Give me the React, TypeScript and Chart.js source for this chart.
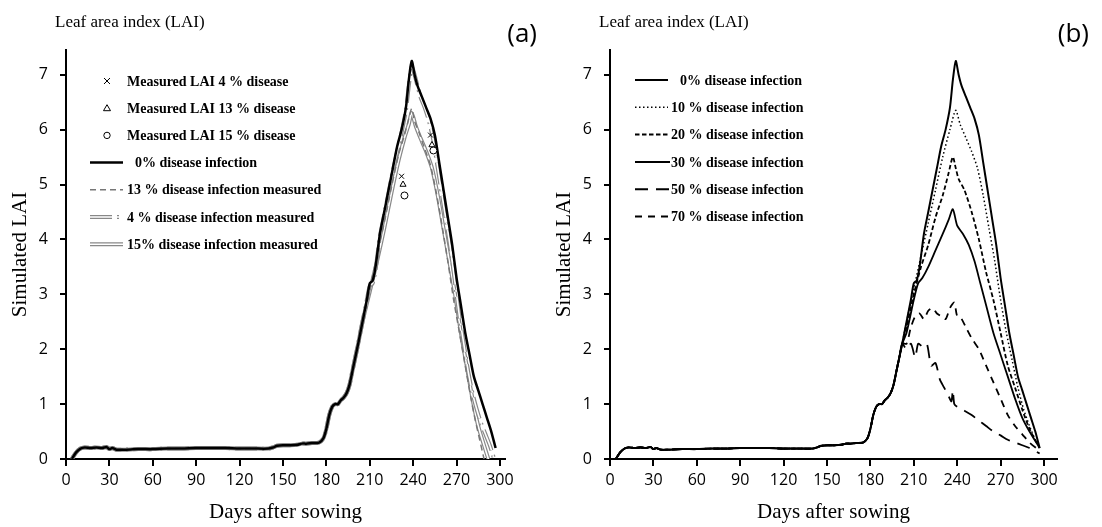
import React, { useEffect, useRef } from 'react';
import { Chart, registerables } from 'chart.js';

Chart.register(...registerables);

// ---------- Data ----------
const xTicksStep = 30;
const yTicksStep = 1;

// shared early season (days 4..202)
const earlyDays = [4, 7, 10, 13, 17, 21, 25, 28, 30, 32, 35, 40, 50, 60, 70, 80, 90, 100, 110, 120, 130, 140, 143, 146, 150, 155, 160, 163, 166, 170, 175, 178, 180, 182, 184, 186, 188, 190, 192, 194, 196, 198, 200, 202];
const earlyLAI = [0, 0.12, 0.19, 0.21, 0.2, 0.21, 0.2, 0.22, 0.18, 0.2, 0.17, 0.17, 0.18, 0.18, 0.19, 0.19, 0.2, 0.2, 0.2, 0.19, 0.19, 0.19, 0.21, 0.24, 0.25, 0.25, 0.26, 0.28, 0.28, 0.29, 0.3, 0.38, 0.55, 0.8, 0.95, 1.0, 1.0, 1.07, 1.12, 1.2, 1.35, 1.6, 1.85, 2.1];

// (a) and (b): 0% disease infection
const late0Days = [205, 208, 210, 212, 214, 217, 220, 223, 226, 229, 232, 235, 237, 239, 241, 243, 246, 249, 252, 255, 258, 261, 264, 267, 270, 273, 276, 279, 282, 285, 288, 291, 294, 297];
const late0LAI = [2.5, 2.9, 3.2, 3.25, 3.5, 4.1, 4.5, 4.9, 5.3, 5.7, 6.0, 6.4, 6.9, 7.25, 7.0, 6.8, 6.6, 6.4, 6.2, 5.9, 5.4, 4.9, 4.4, 3.9, 3.3, 2.8, 2.3, 1.9, 1.5, 1.25, 1.0, 0.75, 0.5, 0.2];

// (a) 4 % disease infection measured
const late4Days = [205, 208, 210, 212, 214, 217, 220, 223, 226, 229, 232, 235, 237, 239, 242, 245, 248, 251, 254, 257, 260, 263, 266, 269, 272, 275, 278, 281, 284, 287, 290, 293, 296];
const late4LAI = [2.5, 2.9, 3.15, 3.2, 3.45, 4.05, 4.45, 4.85, 5.25, 5.6, 5.95, 6.35, 6.8, 7.15, 6.9, 6.6, 6.4, 6.15, 5.8, 5.3, 4.8, 4.3, 3.8, 3.2, 2.6, 2.1, 1.6, 1.2, 0.9, 0.65, 0.45, 0.25, 0.0];

// (a) 13 % disease infection measured
const late13Days = [205, 210, 215, 220, 225, 230, 234, 237, 239, 241, 244, 248, 252, 256, 260, 264, 268, 272, 276, 280, 283, 286, 289];
const late13LAI = [2.5, 3.1, 3.7, 4.3, 4.95, 5.55, 5.9, 6.2, 6.38, 6.15, 5.95, 5.65, 5.35, 4.85, 4.25, 3.6, 2.9, 2.3, 1.7, 1.1, 0.7, 0.35, 0.0];

// (a) 15 % disease infection measured
const late15Days = [205, 210, 215, 220, 225, 230, 234, 237, 239, 242, 245, 249, 253, 257, 261, 265, 269, 273, 277, 281, 285, 289, 292];
const late15LAI = [2.5, 3.05, 3.6, 4.2, 4.85, 5.45, 5.85, 6.1, 6.3, 6.05, 5.85, 5.6, 5.3, 4.8, 4.2, 3.6, 3.0, 2.3, 1.7, 1.1, 0.6, 0.25, 0.0];

// (a) measured LAI points
const meas4Days = [232, 252];
const meas4LAI = [5.15, 5.9];
const meas13Days = [233, 253];
const meas13LAI = [5.0, 5.72];
const meas15Days = [234, 254];
const meas15LAI = [4.8, 5.62];

// (b) 10 % disease infection
const lateB10Days = [205, 210, 215, 220, 225, 230, 235, 239, 242, 246, 250, 254, 258, 262, 266, 270, 274, 278, 282, 286, 290, 294, 297];
const lateB10LAI = [2.5, 3.1, 3.7, 4.3, 4.9, 5.5, 6.0, 6.35, 6.1, 5.85, 5.6, 5.3, 4.8, 4.2, 3.6, 2.9, 2.3, 1.8, 1.3, 0.9, 0.6, 0.35, 0.2];

// (b) 20 % disease infection
const lateB20Days = [205, 210, 215, 220, 225, 230, 234, 237, 239, 241, 245, 250, 255, 260, 265, 270, 275, 280, 285, 290, 297];
const lateB20LAI = [2.4, 3.0, 3.5, 3.9, 4.4, 4.8, 5.2, 5.5, 5.3, 5.1, 4.9, 4.5, 4.0, 3.4, 2.9, 2.3, 1.7, 1.3, 0.9, 0.55, 0.2];

// (b) 30 % disease infection
const lateB30Days = [205, 210, 213, 216, 220, 225, 230, 234, 237, 240, 244, 248, 252, 256, 260, 265, 270, 275, 280, 285, 290, 297];
const lateB30LAI = [2.3, 2.9, 3.2, 3.3, 3.5, 3.8, 4.1, 4.35, 4.55, 4.25, 4.1, 3.9, 3.6, 3.2, 2.8, 2.3, 1.9, 1.5, 1.1, 0.75, 0.5, 0.2];

// (b) 50 % disease infection
const lateB50Days = [205, 208, 211, 213, 216, 219, 222, 225, 228, 231, 234, 236, 237, 238, 240, 245, 250, 255, 260, 265, 270, 275, 280, 285, 290, 297];
const lateB50LAI = [2.0, 2.1, 1.85, 2.1, 2.05, 2.1, 1.7, 1.75, 1.45, 1.3, 1.15, 1.05, 1.25, 1.0, 0.95, 0.88, 0.8, 0.7, 0.6, 0.5, 0.43, 0.35, 0.3, 0.25, 0.2, 0.1];

// (b) 70 % disease infection
const lateB70Days = [205, 208, 211, 214, 217, 220, 223, 226, 229, 232, 235, 238, 240, 243, 246, 250, 255, 260, 265, 270, 275, 280, 285, 290, 297];
const lateB70LAI = [2.1, 2.4, 2.6, 2.65, 2.55, 2.7, 2.75, 2.65, 2.6, 2.55, 2.75, 2.85, 2.6, 2.55, 2.4, 2.2, 2.0, 1.7, 1.4, 1.1, 0.8, 0.6, 0.45, 0.3, 0.15];

const legendLabelsA = [
  'Measured LAI 4 % disease',
  'Measured LAI 13 % disease',
  'Measured LAI 15 % disease',
  '0% disease infection',
  '13 % disease infection measured',
  '4 % disease infection measured',
  '15% disease infection measured',
];
const legendLabelsB = [
  '0% disease infection',
  '10 % disease infection',
  '20 % disease infection',
  '30 % disease infection',
  '50 % disease infection',
  '70 % disease infection',
];

// ---------- helpers ----------
const pts = (days: number[], vals: number[]) => days.map((d, i) => ({ x: d, y: vals[i] }));
const full = (days: number[], vals: number[]) => pts(earlyDays.concat(days), earlyLAI.concat(vals));

const SERIF = '"Liberation Serif", "Times New Roman", serif';
const SANS = '"Open Sans", "Noto Sans", sans-serif';

type LegendItem = {
  label: string;
  kind: 'marker' | 'line' | 'double';
  marker?: string;
  color?: string;
  width?: number;
  dash?: number[];
  lineX0?: number;
  lineX1?: number;
  textX: number;
};

type PanelSpec = {
  title: string;
  letter: string;
  letterX: number;
  xMax: number;
  padRight: number;
  legendY: number;
  legendGap: number;
  legend: LegendItem[];
  datasets: any[];
};

function lineDs(data: any[], color: string, width: number, dash: number[], order: number) {
  return {
    type: 'line',
    data,
    borderColor: color,
    borderWidth: width,
    borderDash: dash,
    pointRadius: 0,
    tension: 0.25,
    fill: false,
    order,
  };
}

function markerDs(data: any[], style: string, order: number) {
  return {
    type: 'scatter',
    data,
    pointStyle: style,
    pointRadius: 3.5,
    borderColor: '#000',
    backgroundColor: '#fff',
    borderWidth: 1,
    order,
  };
}

const dashDot = [22, 5, 2, 5];

const panelA: PanelSpec = {
  title: 'Leaf area index (LAI)',
  letter: '(a)',
  letterX: 537,
  xMax: 303.5,
  padRight: 39,
  legendY: 81,
  legendGap: 27.2,
  legend: [
    { label: legendLabelsA[0], kind: 'marker', marker: 'cross', textX: 127 },
    { label: legendLabelsA[1], kind: 'marker', marker: 'triangle', textX: 127 },
    { label: legendLabelsA[2], kind: 'marker', marker: 'circle', textX: 127 },
    { label: legendLabelsA[3], kind: 'line', color: '#000', width: 2.5, dash: [], lineX0: 90, lineX1: 123, textX: 135 },
    { label: legendLabelsA[4], kind: 'line', color: '#777', width: 1.5, dash: [6, 4], lineX0: 90, lineX1: 123, textX: 127 },
    { label: legendLabelsA[5], kind: 'double', color: '#888', width: 4, dash: dashDot, lineX0: 90, lineX1: 123, textX: 127 },
    { label: legendLabelsA[6], kind: 'double', color: '#888', width: 4, dash: [], lineX0: 90, lineX1: 123, textX: 127 },
  ],
  datasets: [
    markerDs(pts(meas4Days, meas4LAI), 'crossRot', -3),
    markerDs(pts(meas13Days, meas13LAI), 'triangle', -2),
    markerDs(pts(meas15Days, meas15LAI), 'circle', -1),
    lineDs(full(late0Days, late0LAI), '#000', 2.5, [], 0),
    lineDs(full(late13Days, late13LAI), '#777', 1.5, [6, 4], 3),
    lineDs(full(late4Days, late4LAI), '#888', 4, dashDot, 6),
    lineDs(full(late4Days, late4LAI), '#fff', 1.6, dashDot, 5),
    lineDs(full(late15Days, late15LAI), '#888', 4, [], 8),
    lineDs(full(late15Days, late15LAI), '#fff', 1.6, [], 7),
  ],
};

const panelB: PanelSpec = {
  title: 'Leaf area index (LAI)',
  letter: '(b)',
  letterX: 545,
  xMax: 309,
  padRight: 45,
  legendY: 80,
  legendGap: 27.3,
  legend: [
    { label: legendLabelsB[0], kind: 'line', color: '#000', width: 2, dash: [], lineX0: 91, lineX1: 124, textX: 136 },
    { label: legendLabelsB[1], kind: 'line', color: '#000', width: 1.5, dash: [1.5, 2.5], lineX0: 91, lineX1: 124, textX: 127 },
    { label: legendLabelsB[2], kind: 'line', color: '#000', width: 2, dash: [4.5, 2.5], lineX0: 91, lineX1: 126, textX: 127 },
    { label: legendLabelsB[3], kind: 'line', color: '#000', width: 2, dash: [], lineX0: 91, lineX1: 126, textX: 127 },
    { label: legendLabelsB[4], kind: 'line', color: '#000', width: 2, dash: [13, 8], lineX0: 91, lineX1: 126, textX: 127 },
    { label: legendLabelsB[5], kind: 'line', color: '#000', width: 2, dash: [7, 6], lineX0: 91, lineX1: 126, textX: 127 },
  ],
  datasets: [
    lineDs(full(late0Days, late0LAI), '#000', 2, [], 0),
    lineDs(full(lateB10Days, lateB10LAI), '#000', 1.5, [1.5, 2.5], 1),
    lineDs(full(lateB20Days, lateB20LAI), '#000', 1.8, [4.5, 2.5], 2),
    lineDs(full(lateB30Days, lateB30LAI), '#000', 1.8, [], 3),
    lineDs(full(lateB50Days, lateB50LAI), '#000', 1.8, [13, 8], 4),
    lineDs(full(lateB70Days, lateB70LAI), '#000', 1.8, [7, 6], 5),
  ],
};

function drawMarker(ctx: CanvasRenderingContext2D, kind: string, x: number, y: number) {
  ctx.save();
  ctx.strokeStyle = '#000';
  ctx.lineWidth = 1;
  ctx.setLineDash([]);
  ctx.beginPath();
  if (kind === 'cross') {
    const r = 3;
    ctx.moveTo(x - r, y - r); ctx.lineTo(x + r, y + r);
    ctx.moveTo(x + r, y - r); ctx.lineTo(x - r, y + r);
  } else if (kind === 'triangle') {
    ctx.moveTo(x, y - 3.5); ctx.lineTo(x + 3.5, y + 2.5); ctx.lineTo(x - 3.5, y + 2.5); ctx.closePath();
  } else {
    ctx.arc(x, y, 3.2, 0, Math.PI * 2);
  }
  ctx.stroke();
  ctx.restore();
}

function makeOverlay(spec: PanelSpec) {
  return {
    id: 'overlay_' + spec.letter,
    afterDraw(chart: any) {
      const ctx: CanvasRenderingContext2D = chart.ctx;
      ctx.save();
      ctx.fillStyle = '#000';
      ctx.textBaseline = 'middle';
      ctx.textAlign = 'left';
      ctx.font = '17px ' + SERIF;
      ctx.fillText(spec.title, 55, 23);
      ctx.font = '26px ' + SANS;
      ctx.textAlign = 'right';
      ctx.fillText(spec.letter, spec.letterX, 35);
      ctx.textAlign = 'left';
      ctx.font = 'bold 14px ' + SERIF;
      spec.legend.forEach((it, i) => {
        const y = spec.legendY + i * spec.legendGap;
        if (it.kind === 'marker') {
          drawMarker(ctx, it.marker as string, 107, y);
        } else {
          ctx.save();
          ctx.beginPath();
          ctx.setLineDash(it.dash || []);
          ctx.moveTo(it.lineX0 as number, y);
          ctx.lineTo(it.lineX1 as number, y);
          ctx.strokeStyle = it.color as string;
          ctx.lineWidth = it.width as number;
          ctx.stroke();
          if (it.kind === 'double') {
            ctx.strokeStyle = '#fff';
            ctx.lineWidth = 1.6;
            ctx.stroke();
          }
          ctx.restore();
        }
        ctx.fillStyle = '#000';
        ctx.fillText(it.label, it.textX, y + 1);
      });
      ctx.restore();
    },
  };
}

function Panel({ spec, width }: { spec: PanelSpec; width: number }) {
  const ref = useRef<HTMLCanvasElement>(null);
  useEffect(() => {
    if (!ref.current) return;
    const chart = new Chart(ref.current, {
      type: 'line',
      data: { datasets: spec.datasets },
      plugins: [makeOverlay(spec)],
      options: {
        responsive: false,
        animation: false,
        layout: { padding: { left: 0, top: 50, right: spec.padRight, bottom: 0 } },
        plugins: { legend: { display: false }, tooltip: { enabled: false } },
        scales: {
          x: {
            type: 'linear',
            min: 0,
            max: spec.xMax,
            afterFit: (s: any) => { s.height = 68; },
            ticks: {
              stepSize: xTicksStep,
              includeBounds: false,
              color: '#000',
              padding: 5,
              font: { family: SANS, size: 16 },
              maxRotation: 0,
            },
            grid: { drawOnChartArea: false, drawTicks: true, tickLength: 7, color: '#000', lineWidth: 2 },
            border: { color: '#000', width: 2 },
            title: {
              display: true,
              text: 'Days after sowing',
              color: '#000',
              font: { family: SERIF, size: 21 },
              padding: { top: 0, bottom: 2 },
            },
          },
          y: {
            type: 'linear',
            min: 0,
            max: 7.45,
            afterFit: (s: any) => { s.width = 66; },
            ticks: {
              stepSize: yTicksStep,
              includeBounds: false,
              color: '#000',
              padding: 12,
              font: { family: SANS, size: 16 },
            },
            grid: { drawOnChartArea: false, drawTicks: true, tickLength: 6, color: '#000', lineWidth: 2 },
            border: { color: '#000', width: 2 },
            title: {
              display: true,
              text: 'Simulated LAI',
              color: '#000',
              font: { family: SERIF, size: 21 },
              padding: { top: 8, bottom: 0 },
            },
          },
        },
      } as any,
    });
    return () => chart.destroy();
  }, [spec]);
  return <canvas ref={ref} width={width} height={527} style={{ display: 'block', width, height: 527 }} />;
}

export default function App() {
  return (
    <div style={{ position: 'fixed', left: 0, top: 0, width: 1102, height: 527, background: '#fff', display: 'flex' }}>
      <Panel spec={panelA} width={544} />
      <Panel spec={panelB} width={558} />
    </div>
  );
}
